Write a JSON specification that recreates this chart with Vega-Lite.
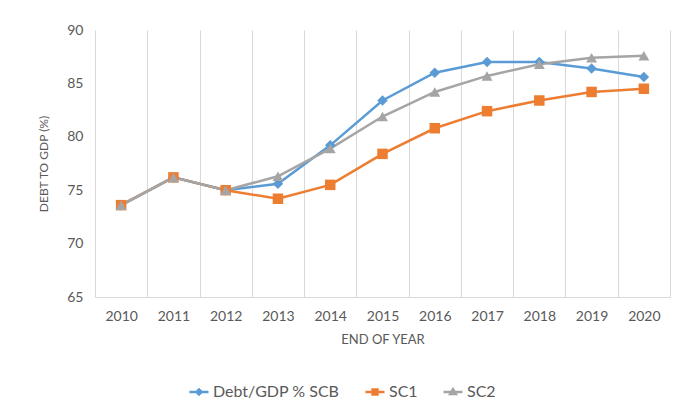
{
  "$schema": "https://vega.github.io/schema/vega-lite/v6.json",
  "width": 575,
  "height": 267,
  "autosize": {"type": "none"},
  "padding": {"left": 95, "top": 30, "right": 10, "bottom": 118},
  "config": {
    "font": "Lato",
    "view": {"stroke": null},
    "axis": {"labelColor": "#595959", "titleColor": "#595959", "titleFontWeight": "normal"}
  },
  "data": {
    "values": [
      {"year": 2010, "series": "Debt/GDP % SCB", "value": 73.6},
      {"year": 2011, "series": "Debt/GDP % SCB", "value": 76.2},
      {"year": 2012, "series": "Debt/GDP % SCB", "value": 75.0},
      {"year": 2013, "series": "Debt/GDP % SCB", "value": 75.6},
      {"year": 2014, "series": "Debt/GDP % SCB", "value": 79.2},
      {"year": 2015, "series": "Debt/GDP % SCB", "value": 83.4},
      {"year": 2016, "series": "Debt/GDP % SCB", "value": 86.0},
      {"year": 2017, "series": "Debt/GDP % SCB", "value": 87.0},
      {"year": 2018, "series": "Debt/GDP % SCB", "value": 87.0},
      {"year": 2019, "series": "Debt/GDP % SCB", "value": 86.4},
      {"year": 2020, "series": "Debt/GDP % SCB", "value": 85.6},
      {"year": 2010, "series": "SC1", "value": 73.6},
      {"year": 2011, "series": "SC1", "value": 76.2},
      {"year": 2012, "series": "SC1", "value": 75.0},
      {"year": 2013, "series": "SC1", "value": 74.2},
      {"year": 2014, "series": "SC1", "value": 75.5},
      {"year": 2015, "series": "SC1", "value": 78.4},
      {"year": 2016, "series": "SC1", "value": 80.8},
      {"year": 2017, "series": "SC1", "value": 82.4},
      {"year": 2018, "series": "SC1", "value": 83.4},
      {"year": 2019, "series": "SC1", "value": 84.2},
      {"year": 2020, "series": "SC1", "value": 84.5},
      {"year": 2010, "series": "SC2", "value": 73.6},
      {"year": 2011, "series": "SC2", "value": 76.2},
      {"year": 2012, "series": "SC2", "value": 75.0},
      {"year": 2013, "series": "SC2", "value": 76.3},
      {"year": 2014, "series": "SC2", "value": 78.9},
      {"year": 2015, "series": "SC2", "value": 81.9},
      {"year": 2016, "series": "SC2", "value": 84.2},
      {"year": 2017, "series": "SC2", "value": 85.7},
      {"year": 2018, "series": "SC2", "value": 86.8},
      {"year": 2019, "series": "SC2", "value": 87.4},
      {"year": 2020, "series": "SC2", "value": 87.6}
    ]
  },
  "encoding": {
    "y": {
      "field": "value",
      "type": "quantitative",
      "scale": {"domain": [65, 90], "nice": false, "zero": false},
      "axis": {
        "values": [65, 70, 75, 80, 85, 90],
        "grid": false,
        "domain": false,
        "ticks": false,
        "labelPadding": 12,
        "labelFontSize": 14,
        "title": "DEBT TO GDP (%)",
        "titleFontSize": 12,
        "titlePadding": 16
      }
    },
    "color": {
      "field": "series",
      "type": "nominal",
      "scale": {
        "domain": ["Debt/GDP % SCB", "SC1", "SC2"],
        "range": ["#5B9BD5", "#ED7D31", "#A5A5A5"]
      },
      "legend": {
        "orient": "none",
        "legendX": 93,
        "legendY": 351,
        "direction": "horizontal",
        "title": null,
        "labelFontSize": 16,
        "labelColor": "#595959",
        "labelOffset": 3,
        "symbolSize": 361,
        "symbolStrokeWidth": 2.5,
        "columnPadding": 20,
        "encode": {
          "symbols": {
            "update": {
              "shape": {"signal": "datum.value === 'SC1' ? 'M-1,0H1M-0.26,-0.26H0.26V0.26H-0.26Z' : datum.value === 'SC2' ? 'M-1,0H1M0,-0.3L0.3,0.22L-0.3,0.22Z' : 'M-1,0H1M0,-0.27L0.27,0L0,0.27L-0.27,0Z'"},
              "stroke": {"signal": "datum.value === 'SC1' ? '#ED7D31' : datum.value === 'SC2' ? '#A5A5A5' : '#5B9BD5'"},
              "fill": {"signal": "datum.value === 'SC1' ? '#ED7D31' : datum.value === 'SC2' ? '#A5A5A5' : '#5B9BD5'"},
              "strokeWidth": {"value": 2.5},
              "opacity": {"value": 1}
            }
          }
        }
      }
    }
  },
  "layer": [
    {
      "mark": {"type": "line", "strokeWidth": 2.5},
      "encoding": {
        "x": {
          "field": "year",
          "type": "quantitative",
          "scale": {"domain": [2009.5, 2020.5], "nice": false, "zero": false},
          "axis": {
            "orient": "bottom",
            "values": [2009.5, 2010.5, 2011.5, 2012.5, 2013.5, 2014.5, 2015.5, 2016.5, 2017.5, 2018.5, 2019.5, 2020.5],
            "grid": true,
            "gridColor": "#d9d9d9",
            "labels": false,
            "ticks": false,
            "domain": false,
            "title": null
          }
        }
      }
    },
    {
      "transform": [{"filter": "datum.series === 'Debt/GDP % SCB'"}],
      "mark": {"type": "point", "filled": true, "opacity": 1, "shape": "diamond", "size": 110},
      "encoding": {
        "x": {
          "field": "year",
          "type": "quantitative",
          "axis": {
            "orient": "bottom",
            "values": [2010, 2011, 2012, 2013, 2014, 2015, 2016, 2017, 2018, 2019, 2020],
            "format": "d",
            "grid": false,
            "ticks": false,
            "domain": true,
            "domainColor": "#d9d9d9",
            "labelFontSize": 14,
            "labelPadding": 12,
            "title": "END OF YEAR",
            "titleFontSize": 13,
            "titlePadding": 10
          }
        }
      }
    },
    {
      "transform": [{"filter": "datum.series === 'SC1'"}],
      "mark": {"type": "point", "filled": true, "opacity": 1, "shape": "square", "size": 110},
      "encoding": {
        "x": {"field": "year", "type": "quantitative", "axis": null}
      }
    },
    {
      "transform": [{"filter": "datum.series === 'SC2'"}],
      "mark": {"type": "point", "filled": true, "opacity": 1, "shape": "triangle-up", "size": 120},
      "encoding": {
        "x": {"field": "year", "type": "quantitative", "axis": null}
      }
    }
  ],
  "resolve": {"axis": {"x": "independent"}}
}
